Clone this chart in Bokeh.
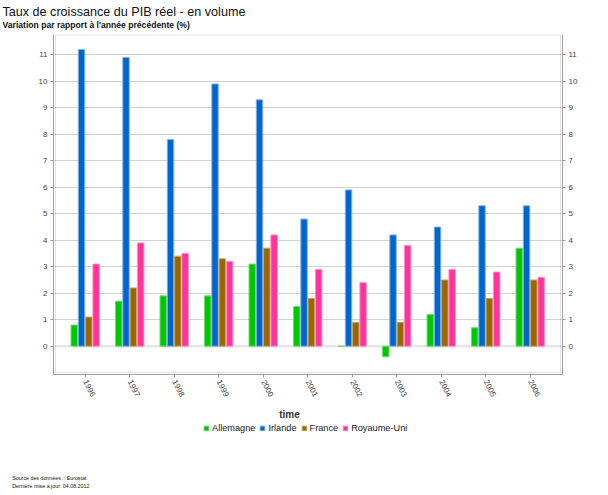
from bokeh.plotting import figure
from bokeh.layouts import column
from bokeh.models import (ColumnDataSource, Range1d, FixedTicker, LinearAxis,
                          Span, BoxAnnotation, Legend, LegendItem, Title, Label)
from bokeh.transform import dodge
from bokeh.embed import file_html
from bokeh.resources import INLINE

# ---- data ----
years = [1996, 1997, 1998, 1999, 2000, 2001, 2002, 2003, 2004, 2005, 2006]
allemagne = [0.8, 1.7, 1.9, 1.9, 3.1, 1.5, 0.0, -0.4, 1.2, 0.7, 3.7]
irlande = [11.2, 10.9, 7.8, 9.9, 9.3, 4.8, 5.9, 4.2, 4.5, 5.3, 5.3]
france = [1.1, 2.2, 3.4, 3.3, 3.7, 1.8, 0.9, 0.9, 2.5, 1.8, 2.5]
royaume_uni = [3.1, 3.9, 3.5, 3.2, 4.2, 2.9, 2.4, 3.8, 2.9, 2.8, 2.6]
series_names = ["Allemagne", "Irlande", "France", "Royaume-Uni"]
y_ticks = list(range(0, 12))

title_text = "Taux de croissance du PIB réel - en volume"
subtitle_text = "Variation par rapport à l'année précédente (%)"
x_title = "time"
source_text = "Source des données :: Eurostat"
update_text = "Dernière mise à jour: 04.08.2012"

# ---- styles ----
FONT = "Liberation Sans"
W = 600
BL, BR = 53, 38  # left / right borders (frame spans page x 53..562)
fills = ["#00c800", "#0066cc", "#996600", "#ff3399"]
edges = ["#70dc70", "#7fb2e5", "#c9a466", "#ff8fc7"]
offsets = [-0.246, -0.082, 0.082, 0.246]
bar_w = 0.145

def title(text, size, style="normal", offset=0, valign="bottom", standoff=0,
          color="#111111"):
    return Title(text=text, align="left", offset=offset, vertical_align=valign,
                 standoff=standoff, text_font=FONT, text_font_size=size,
                 text_font_style=style, text_color=color)

# ================= main chart (page y 0..402) =================
src = ColumnDataSource(dict(year=years, Allemagne=allemagne, Irlande=irlande,
                            France=france, **{"Royaume-Uni": royaume_uni}))

p = figure(width=W, height=402, output_backend="svg", toolbar_location=None,
           title=None,
           x_range=Range1d(1995.288, 2006.726), y_range=Range1d(-1.068, 11.766),
           min_border_left=BL, min_border_right=BR, min_border_top=34,
           min_border_bottom=28)
p.outline_line_color = None
p.background_fill_color = "white"
p.border_fill_color = "white"

p.add_layout(Span(location=0, dimension="width", line_color="#e6e6e6",
                  line_width=2.5, level="underlay"))

for name, fc, ec, off in zip(series_names, fills, edges, offsets):
    p.vbar(x=dodge("year", off, range=p.x_range), top=name, bottom=0,
           width=bar_w, source=src, fill_color=fc, line_color=ec, line_width=1)

p.add_layout(BoxAnnotation(left=1995.333, right=2006.681, bottom=-0.993,
                           top=11.75, fill_color=None, line_color="#a0a0a0",
                           line_width=1, level="overlay"))

def style_axis(ax):
    ax.axis_line_color = "#a0a0a0"
    ax.major_tick_line_color = "#a0a0a0"
    ax.major_tick_out = 3
    ax.major_tick_in = 0
    ax.minor_tick_line_color = None
    ax.major_label_text_font = FONT
    ax.major_label_text_font_size = "8px"
    ax.major_label_text_color = "#444444"
    ax.major_label_standoff = 3

p.xaxis.ticker = FixedTicker(ticks=years)
p.xaxis.major_label_orientation = -1.1
style_axis(p.xaxis[0])
p.yaxis.ticker = FixedTicker(ticks=y_ticks)
style_axis(p.yaxis[0])
right = LinearAxis(ticker=FixedTicker(ticks=y_ticks))
style_axis(right)
p.add_layout(right, "right")

p.xgrid.grid_line_color = None
p.ygrid.ticker = FixedTicker(ticks=y_ticks[1:])
p.ygrid.grid_line_color = "#d2d2d2"
p.ygrid.grid_line_width = 1

# above: first added is nearest to the frame
p.add_layout(title(subtitle_text, "8.6px", "bold", offset=-51, valign="top",
                   standoff=3.8), "above")
p.add_layout(title(title_text, "12.6px", offset=-51, valign="bottom",
                   standoff=0), "above")

# ================= bottom strip (page y 402..494) =================
bot = figure(width=W, height=92, output_backend="svg", toolbar_location=None,
             title=None, x_range=Range1d(BL, W - BR), y_range=Range1d(472, 402),
             x_axis_type=None, y_axis_type=None, min_border_left=BL,
             min_border_right=BR, min_border_top=0, min_border_bottom=22)
bot.outline_line_color = None
bot.background_fill_color = "white"
bot.border_fill_color = "white"

bot.add_layout(Label(x=289, y=414, text=x_title, text_font=FONT,
                     text_font_size="10px", text_font_style="bold",
                     text_align="center", text_baseline="alphabetic",
                     text_color="#333333"))

# legend proxies: same series, hidden renderers (only their swatches are shown)
items = []
for name, fc, ec in zip(series_names, fills, edges):
    r = bot.vbar(x="year", top=name, bottom=0, width=bar_w, source=src,
                 fill_color=fc, line_color=ec, line_width=1)
    r.visible = False
    items.append(LegendItem(label=name, renderers=[r]))
lg = Legend(items=items, orientation="horizontal", location=(150, 38.6))
lg.background_fill_color = None
lg.border_line_color = None
lg.inactive_fill_alpha = 0
lg.padding = 0
lg.margin = 0
lg.spacing = 4
lg.label_standoff = 3
lg.glyph_width = 6
lg.glyph_height = 6
lg.label_height = 10
lg.label_width = 0
lg.label_text_font = FONT
lg.label_text_font_size = "9.2px"
lg.label_text_color = "#222222"
bot.add_layout(lg)

bot.add_layout(title(source_text, "5.3px", offset=-41.3), "below")
bot.add_layout(title(update_text, "5.3px", offset=-41.3), "below")

layout = column(p, bot, spacing=0)
open("out.html", "w").write(file_html(layout, INLINE))
